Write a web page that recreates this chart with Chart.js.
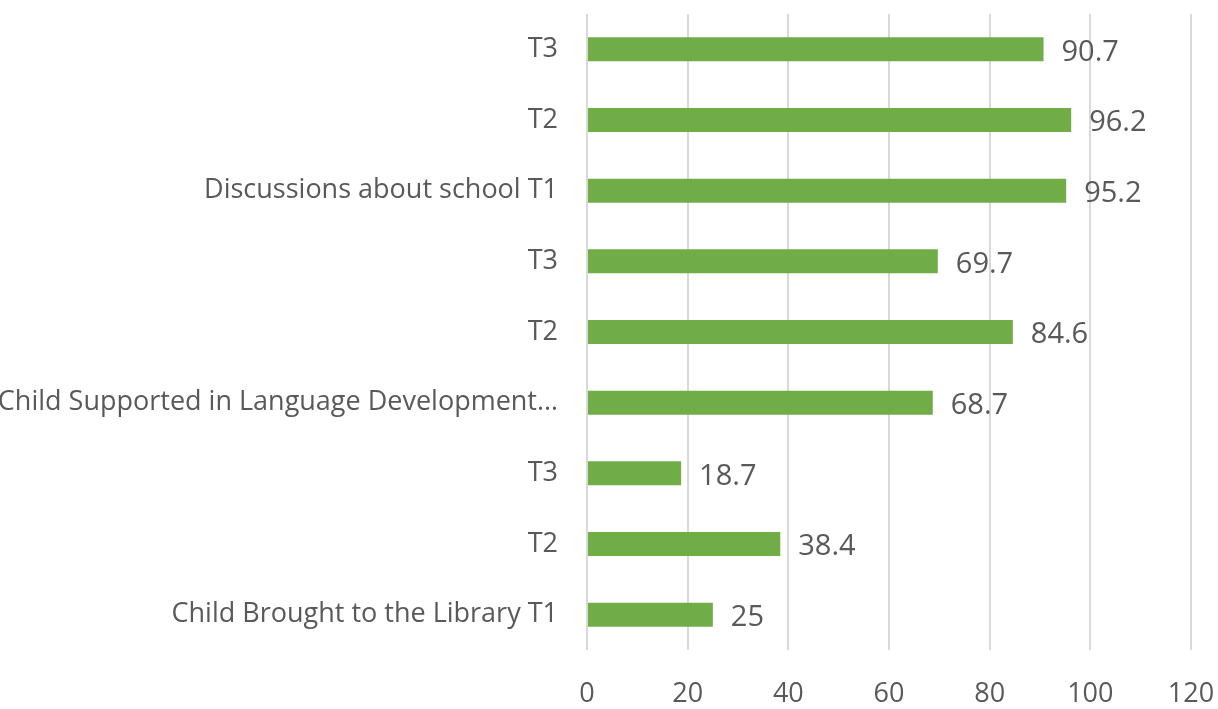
<!DOCTYPE html>
<html>
<head>
<meta charset="utf-8">
<script src="https://cdn.jsdelivr.net/npm/chart.js@4/dist/chart.umd.min.js"></script>
<style>
  html, body { margin: 0; padding: 0; background: #fff; }
  #wrap { width: 1218px; height: 709px; position: relative; }
</style>
</head>
<body>
<div id="wrap"><canvas id="chart"></canvas></div>
<script>
// categories, top to bottom
const labels = [
  "T3",
  "T2",
  "Discussions about school T1",
  "T3",
  "T2",
  "Child Supported in Language Development…",
  "T3",
  "T2",
  "Child Brought to the Library T1"
];
const values = [90.7, 96.2, 95.2, 69.7, 84.6, 68.7, 18.7, 38.4, 25];
const xTicks = [0, 20, 40, 60, 80, 100, 120];

const textColor = "#595959";
const barColor = "#70ad47";
const fontFamily = "'Open Sans', sans-serif";

// value labels to the right of each bar
const valueLabels = {
  id: "valueLabels",
  afterDatasetsDraw(chart){
    const ctx = chart.ctx;
    const meta = chart.getDatasetMeta(0);
    ctx.save();
    ctx.font = "29px " + fontFamily;
    ctx.fillStyle = textColor;
    ctx.textAlign = "left";
    ctx.textBaseline = "middle";
    meta.data.forEach((bar, i)=>{
      ctx.fillText(String(values[i]), bar.x + 18, bar.y + 3);
    });
    ctx.restore();
  }
};

// keep the plot box fixed: no extra room for overhanging tick labels
function noPad(s){
  s.paddingTop = 0; s.paddingBottom = 0;
  s.paddingLeft = 0; s.paddingRight = 0;
}

new Chart(document.getElementById("chart"), {
  type: "bar",
  data: {
    labels,
    datasets: [{
      data: values,
      backgroundColor: barColor,
      borderWidth: 0,
      barPercentage: 0.34,
      categoryPercentage: 1
    }]
  },
  options: {
    indexAxis: "y",
    responsive: true,
    maintainAspectRatio: false,
    animation: false,
    layout: { padding: { top: 14, right: 27, bottom: 0, left: 0 } },
    plugins: { legend: { display: false }, tooltip: { enabled: false } },
    scales: {
      x: {
        min: 0, max: 120,
        afterBuildTicks: (s)=>{ s.ticks = xTicks.map(v=>({ value: v })); },
        grid: { color: "#d9d9d9", lineWidth: 2, drawTicks: false },
        border: { display: false },
        ticks: { color: textColor, font: { family: fontFamily, size: 27 }, padding: 28 },
        afterFit: (s)=>{ s.height = 59; noPad(s); }
      },
      y: {
        grid: { display: false, drawTicks: false },
        border: { display: false },
        ticks: { color: textColor, font: { family: fontFamily, size: 27 }, padding: 29, autoSkip: false },
        afterFit: (s)=>{ s.width = 587; noPad(s); }
      }
    }
  },
  plugins: [valueLabels]
});
</script>
</body>
</html>
